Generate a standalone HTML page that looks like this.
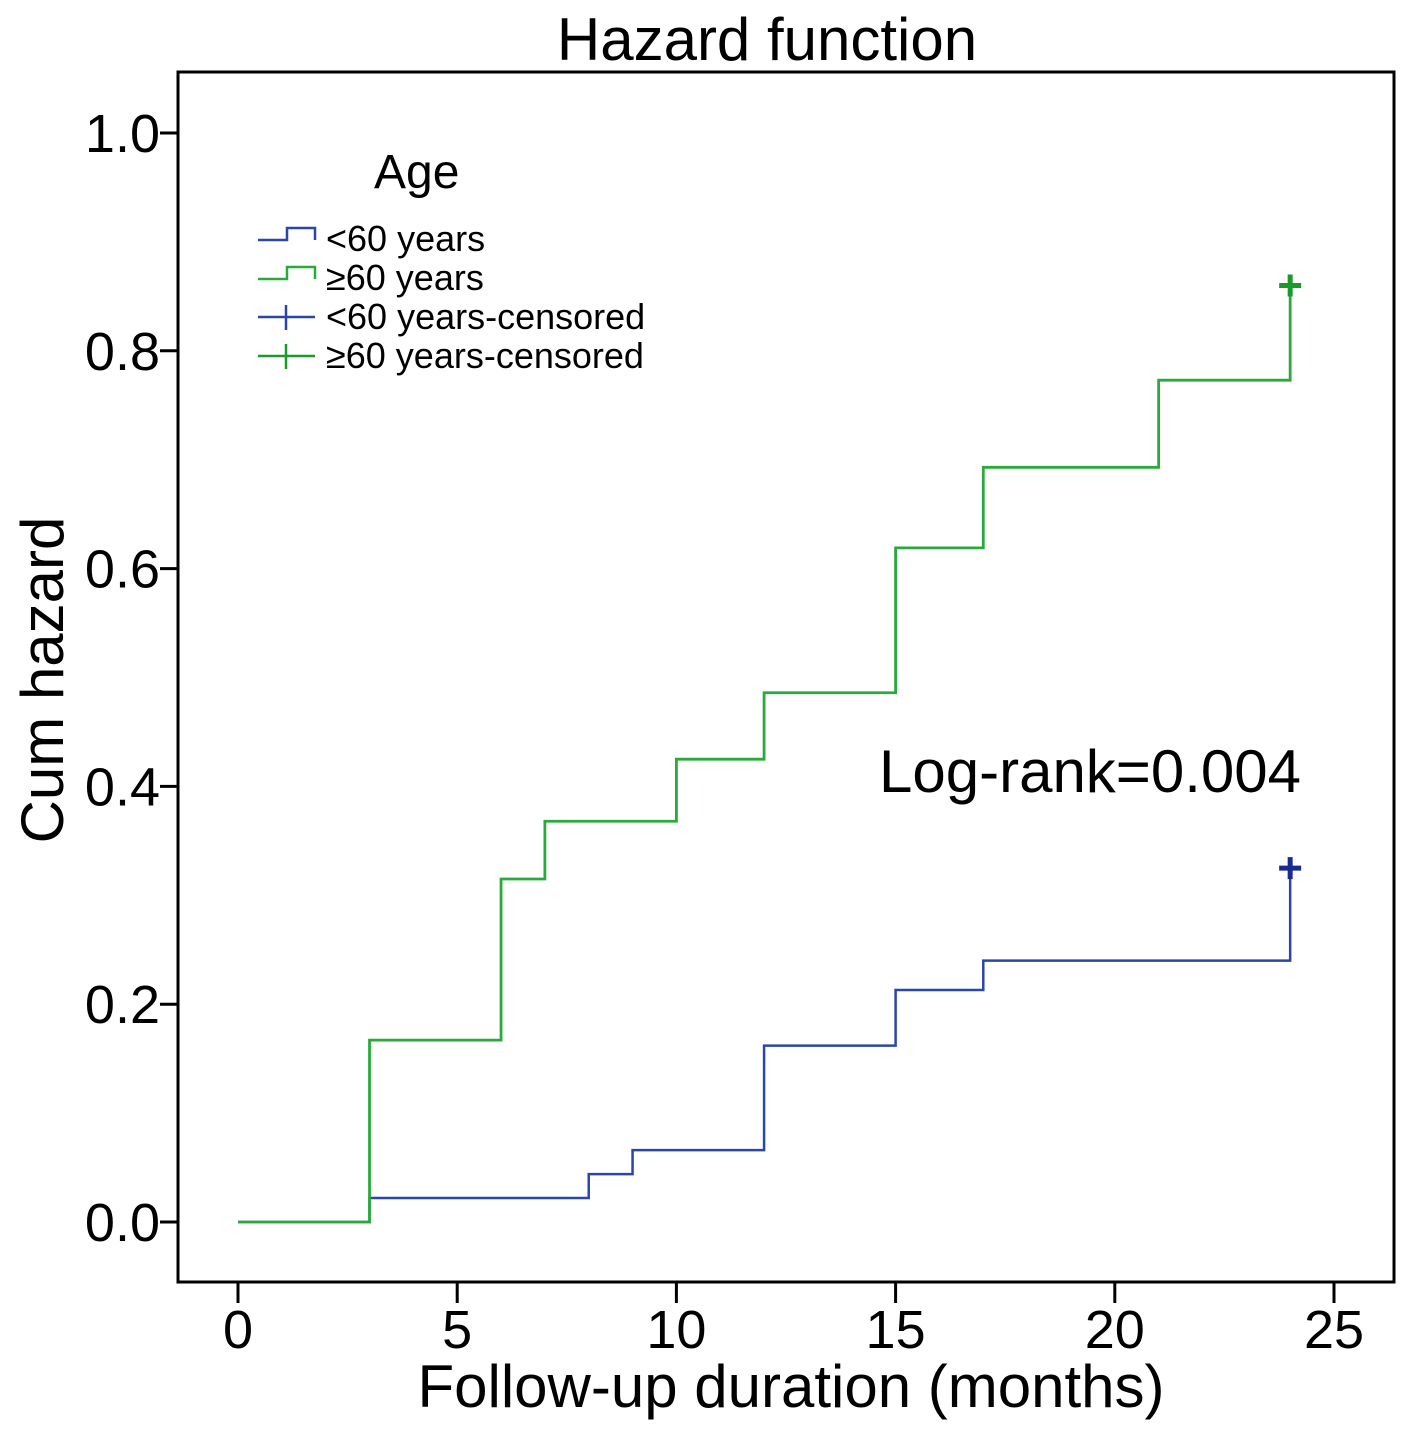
<!DOCTYPE html>
<html><head><meta charset="utf-8"><style>
html,body{margin:0;padding:0;background:#fff;}
svg{display:block;font-family:"Liberation Sans",sans-serif;}
</style></head><body>
<svg id="chart" width="1417" height="1438" viewBox="0 0 1417 1438" xmlns="http://www.w3.org/2000/svg">
<rect width="1417" height="1438" fill="#fff"/>
<text x="767" y="60" font-size="60" text-anchor="middle">Hazard function</text>
<rect x="178" y="72" width="1216" height="1210" fill="none" stroke="#000" stroke-width="3"/>
<g id="axes"></g>
<g id="series"></g>
<text transform="translate(63,680) rotate(-90)" font-size="60" text-anchor="middle">Cum hazard</text>
<text x="791" y="1407" font-size="60" text-anchor="middle">Follow-up duration (months)</text>
<text x="879" y="792" font-size="60">Log-rank=0.004</text>
<g>
<text x="374" y="188" font-size="48">Age</text>
<g>
<path d="M258,240 H287 V228 H315 V240" fill="none" stroke="#2a46a8" stroke-width="2.5"/>
<text x="326" y="251" font-size="36">&lt;60 years</text></g>
<g>
<path d="M258,279 H287 V267 H315 V279" fill="none" stroke="#2aaa3a" stroke-width="2.5"/>
<text x="326" y="290" font-size="36">≥60 years</text></g>
<g>
<path d="M258,317 H315 M286,305 V330" fill="none" stroke="#2a46a8" stroke-width="2.5"/>
<text x="326" y="329" font-size="36">&lt;60 years-censored</text></g>
<g>
<path d="M258,356 H315 M286,344 V369" fill="none" stroke="#1a9a2a" stroke-width="2.5"/>
<text x="326" y="368" font-size="36">≥60 years-censored</text></g>
</g>
</svg>
<script>
const xTicks = [0, 5, 10, 15, 20, 25];
const yTicks = [0.0, 0.2, 0.4, 0.6, 0.8, 1.0];
const yTickLabels = ["0.0", "0.2", "0.4", "0.6", "0.8", "1.0"];
const greenTimes = [0, 3, 6, 7, 10, 12, 15, 17, 21, 24];
const greenValues = [0, 0.167, 0.315, 0.368, 0.425, 0.486, 0.619, 0.693, 0.773, 0.86];
const blueTimes = [0, 3, 8, 9, 12, 15, 17, 24];
const blueValues = [0, 0.022, 0.044, 0.066, 0.162, 0.213, 0.240, 0.325];
const censorTime = 24;

const NS = "http://www.w3.org/2000/svg";
function xS(v){ return 238 + v * (1334 - 238) / 25; }
function yS(v){ return 1222 - v * (1222 - 133); }
function mk(tag, attrs, parent){ const e = document.createElementNS(NS, tag); for (const k in attrs) e.setAttribute(k, attrs[k]); parent.appendChild(e); return e; }

const axes = document.getElementById('axes');
xTicks.forEach(t => {
  const l = mk('line', {x1:xS(t), x2:xS(t), y1:1282, y2:1303, stroke:'#000', 'stroke-width':3}, axes);
  
  
  const tx = mk('text', {x:xS(t), y:1348, 'font-size':54, 'text-anchor':'middle'}, axes);
  tx.textContent = t;
  
  
});
yTicks.forEach((t, i) => {
  const l = mk('line', {x1:160, x2:178, y1:yS(t), y2:yS(t), stroke:'#000', 'stroke-width':3}, axes);
  
  
  const tx = mk('text', {x:160, y:yS(t) + 19, 'font-size':54, 'text-anchor':'end'}, axes);
  tx.textContent = yTickLabels[i];
  
  
});

const series = document.getElementById('series');
function stepPath(times, vals){
  let d = 'M' + xS(times[0]) + ',' + yS(vals[0]);
  for (let i = 1; i < times.length; i++) d += ' H' + xS(times[i]) + ' V' + yS(vals[i]);
  return d;
}
const bp = mk('path', {d:stepPath(blueTimes, blueValues), fill:'none', stroke:'#2a46a8', 'stroke-width':2.5}, series);


const gp = mk('path', {d:stepPath(greenTimes, greenValues), fill:'none', stroke:'#2aaa3a', 'stroke-width':2.8}, series);



function censor(v, color, name){
  const cx = xS(censorTime), cy = yS(v);
  const c = mk('path', {d:'M'+(cx-11)+','+cy+' H'+(cx+11)+' M'+cx+','+(cy-11)+' V'+(cy+11), stroke:color, 'stroke-width':5, fill:'none'}, series);
  
  
}
censor(blueValues[blueValues.length-1], '#1a2a90', 'under60-censor-mark');
censor(greenValues[greenValues.length-1], '#1a9a2a', 'over60-censor-mark');
</script>
</body></html>
